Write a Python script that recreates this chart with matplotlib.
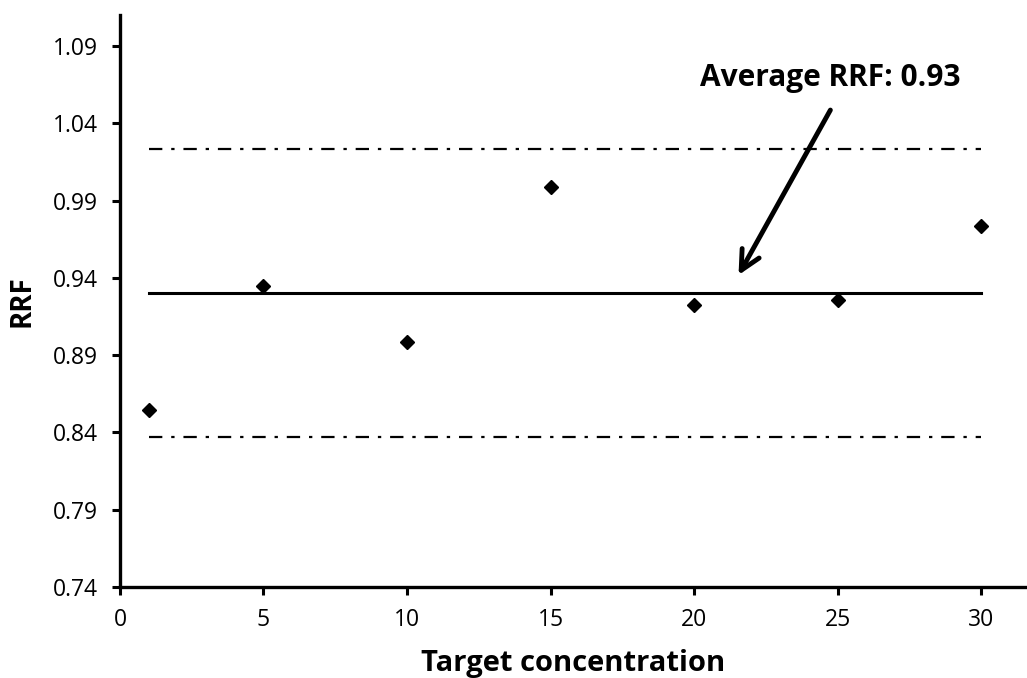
import matplotlib
matplotlib.use("Agg")
import matplotlib.pyplot as plt
import numpy as np

plt.rcParams['font.family'] = ['Open Sans', 'DejaVu Sans']

# measured RRF at each target concentration
conc = [1, 5, 10, 15, 20, 25, 30]
rrf = [0.8545, 0.935, 0.8985, 0.9987, 0.9224, 0.9256, 0.9735]
avg_rrf = 0.93
limit_pct = 0.10   # +/- 10% acceptance band

yticks = [0.74, 0.79, 0.84, 0.89, 0.94, 0.99, 1.04, 1.09]
xticks = [0, 5, 10, 15, 20, 25, 30]

fig = plt.figure(figsize=(10.27, 6.78), dpi=100)
ax = fig.add_axes([0.1168, 0.1342, 0.8832, 0.8437])

x0, x1 = conc[0], conc[-1]
ax.plot([x0, x1], [avg_rrf, avg_rrf], color='black', lw=2.2)
ax.plot([x0, x1], [avg_rrf * (1 + limit_pct)] * 2, color='black', lw=1.6,
        linestyle=(0, (6, 4, 1.5, 4)))
ax.plot([x0, x1], [avg_rrf * (1 - limit_pct)] * 2, color='black', lw=1.6,
        linestyle=(0, (6, 4, 1.5, 4)))
ax.plot(conc, rrf, linestyle='none', marker='D', markersize=7.5,
        color='black', zorder=5)

# label and arrow pointing at the average line
ax.text(24.75, 1.069, 'Average RRF: %.2f' % avg_rrf, ha='center', va='center',
        fontsize=21.5, fontweight='bold')
ax.annotate('', xy=(21.55, 0.9418), xytext=(24.75, 1.0485),
            arrowprops=dict(arrowstyle='->, head_length=1.4, head_width=0.7',
                            lw=3.5, color='black', shrinkA=0, shrinkB=0))

ax.set_xlim(0, 31.6)
ax.set_ylim(0.74, 1.11)
ax.set_xticks(xticks)
ax.set_yticks(yticks)
ax.set_yticklabels(['%.2f' % v for v in yticks])
ax.tick_params(labelsize=16.5, width=2.2, length=6, direction='out')
ax.tick_params(axis='x', pad=9)
ax.tick_params(axis='y', pad=10)

for side in ['top', 'right']:
    ax.spines[side].set_visible(False)
for side in ['left', 'bottom']:
    ax.spines[side].set_linewidth(2.4)

ax.set_xlabel('Target concentration', fontsize=21, fontweight='bold', labelpad=12)
ax.set_ylabel('RRF', fontsize=20, fontweight='bold', labelpad=12)

fig.savefig('out.png', dpi=100)
